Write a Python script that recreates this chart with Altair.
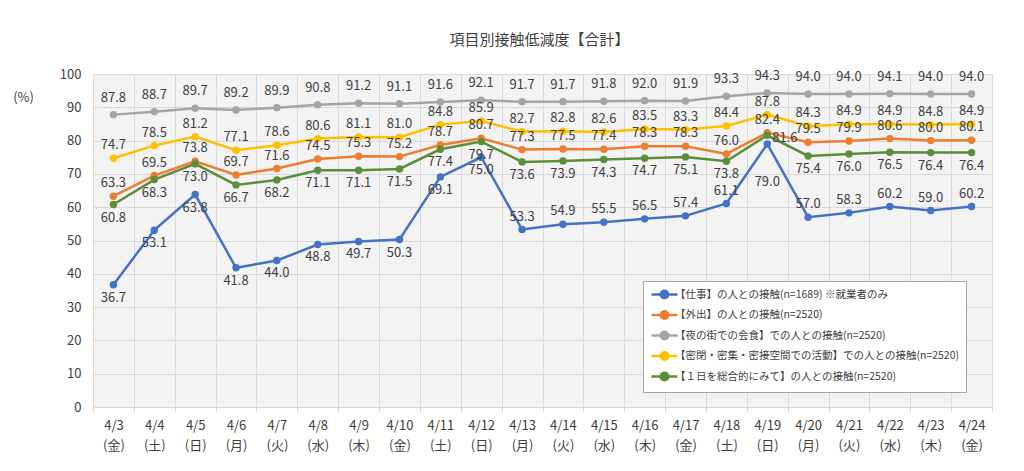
import altair as alt
import pandas as pd

dates = ["4/3", "4/4", "4/5", "4/6", "4/7", "4/8", "4/9", "4/10", "4/11", "4/12", "4/13",
         "4/14", "4/15", "4/16", "4/17", "4/18", "4/19", "4/20", "4/21", "4/22", "4/23", "4/24"]
weekdays = ["金", "土", "日", "月", "火", "水", "木", "金", "土", "日", "月",
            "火", "水", "木", "金", "土", "日", "月", "火", "水", "木", "金"]

series_names = [
    "【仕事】の人との接触(n=1689) ※就業者のみ",
    "【外出】の人との接触(n=2520)",
    "【夜の街での会食】での人との接触(n=2520)",
    "【密閉・密集・密接空間での活動】での人との接触(n=2520)",
    "【１日を総合的にみて】の人との接触(n=2520)",
]
series_colors = ["#4472C4", "#ED7D31", "#A5A5A5", "#FFC000", "#5B8E3B"]

work = [36.7, 53.1, 63.8, 41.8, 44.0, 48.8, 49.7, 50.3, 69.1, 75.0, 53.3,
        54.9, 55.5, 56.5, 57.4, 61.1, 79.0, 57.0, 58.3, 60.2, 59.0, 60.2]
outing = [63.3, 69.5, 73.8, 69.7, 71.6, 74.5, 75.3, 75.2, 78.7, 80.7, 77.3,
          77.5, 77.4, 78.3, 78.3, 76.0, 82.4, 79.5, 79.9, 80.6, 80.0, 80.1]
nightlife = [87.8, 88.7, 89.7, 89.2, 89.9, 90.8, 91.2, 91.1, 91.6, 92.1, 91.7,
             91.7, 91.8, 92.0, 91.9, 93.3, 94.3, 94.0, 94.0, 94.1, 94.0, 94.0]
closed_spaces = [74.7, 78.5, 81.2, 77.1, 78.6, 80.6, 81.1, 81.0, 84.8, 85.9, 82.7,
                 82.8, 82.6, 83.5, 83.3, 84.4, 87.8, 84.3, 84.9, 84.9, 84.8, 84.9]
overall = [60.8, 68.3, 73.0, 66.7, 68.2, 71.1, 71.1, 71.5, 77.4, 79.7, 73.6,
           73.9, 74.3, 74.7, 75.1, 73.8, 81.6, 75.4, 76.0, 76.5, 76.4, 76.4]

all_values = [work, outing, nightlife, closed_spaces, overall]

rows = []
for s_i, (name, vals) in enumerate(zip(series_names, all_values)):
    for i, v in enumerate(vals):
        rows.append({"series": name, "sidx": s_i, "idx": i,
                     "day": f"{dates[i]}\n({weekdays[i]})", "value": v})
df = pd.DataFrame(rows)
day_order = [f"{d}\n({w})" for d, w in zip(dates, weekdays)]

FONT = "Noto Sans CJK JP"

x_enc = alt.X("day:N", sort=day_order,
              scale=alt.Scale(type="band", paddingInner=0, paddingOuter=0),
              axis=alt.Axis(title=None, labelExpr="split(datum.label, '\\n')",
                            labelAngle=0, labelLineHeight=20, labelFontSize=13,
                            labelColor="#404040", labelFont=FONT, labelPadding=7,
                            tickBand="extent", tickSize=5, tickColor="#D9D9D9",
                            domainColor="#D9D9D9", grid=True, gridColor="#D9D9D9"))
y_enc = alt.Y("value:Q", scale=alt.Scale(domain=[0, 100]),
              axis=alt.Axis(title="(%)", titleAngle=0, titleX=-70, titleY=30,
                            titleFont=FONT, titleFontSize=13, titleFontWeight="normal",
                            titleColor="#404040", values=list(range(0, 101, 10)),
                            labelFontSize=13, labelColor="#404040", labelFont=FONT,
                            labelPadding=12, ticks=False, domain=False,
                            gridColor="#D9D9D9"))
legend_symbol = ("M-0.83,0H3.5"
                 "M0.7,0a0.63,0.63 0 1,0 1.26,0a0.63,0.63 0 1,0 -1.26,0")
color_enc = alt.Color("series:N", sort=series_names,
                      scale=alt.Scale(domain=series_names, range=series_colors),
                      legend=alt.Legend(title=None, orient="none", legendX=550, legendY=207,
                                        symbolType=legend_symbol,
                                        symbolSize=144, symbolStrokeWidth=2.5,
                                        labelFont=FONT, labelFontSize=10.5, labelColor="#404040",
                                        labelLimit=400, rowPadding=1.5, padding=6,
                                        fillColor="#FFFFFF", strokeColor="#A6A6A6",
                                        labelOffset=11))

base = alt.Chart(df)

lines = base.mark_line(strokeWidth=2.5, point=alt.OverlayMarkDef(filled=True, size=55)).encode(
    x=x_enc, y=y_enc, color=color_enc, order="idx:Q")

lab_expr = ("datum.sidx == 2 ? 'top2' : "
            "(datum.sidx == 4 && datum.idx == 16) ? 'right' : "
            "(datum.sidx == 0 && datum.idx == 16) ? 'farbelow' : "
            "(datum.sidx == 4 || (datum.sidx == 0 && datum.idx < 10)) ? 'below' : 'above'")
tbase = base.transform_calculate(pos=lab_expr)

def text_layer(pos, dy, dx=0, align="center"):
    return tbase.transform_filter(alt.datum.pos == pos).mark_text(
        font=FONT, fontSize=13, color="#404040", dy=dy, dx=dx, align=align,
        baseline="middle").encode(
        x=alt.X("day:N", sort=day_order), y=y_enc,
        text=alt.Text("value:Q", format=".1f"))

chart = alt.layer(
    lines,
    text_layer("top2", -17),
    text_layer("above", -13),
    text_layer("below", 13),
    text_layer("right", 3, dx=5, align="left"),
    text_layer("farbelow", 38),
).properties(
    width=899, height=333,
    title=alt.TitleParams("項目別接触低減度【合計】", font=FONT, fontSize=15,
                          fontWeight="normal", color="#404040", anchor="middle",
                          dx=-3, offset=20),
    autosize=alt.AutoSizeParams(type="none"),
    padding={"left": 85, "top": 66, "right": 20, "bottom": 50},
).configure_view(stroke="#D9D9D9", fill="#F3F3F3")

chart.save("out.html", embed_options={"renderer": "svg", "actions": False})
